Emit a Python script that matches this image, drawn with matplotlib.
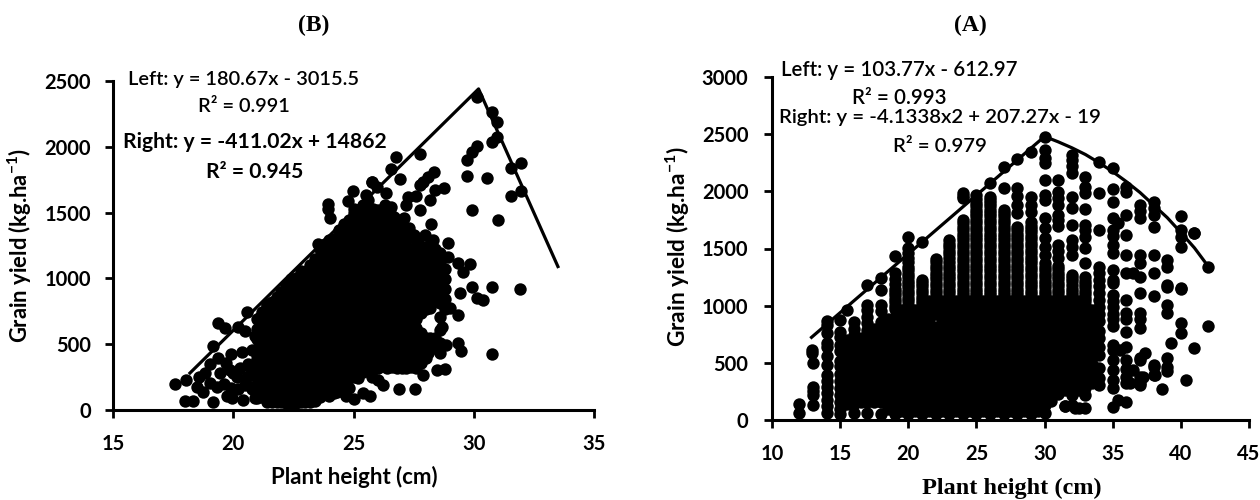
# -*- coding: utf-8 -*-
"""Grain yield against plant height, panels (B) and (A), with boundary lines."""

from matplotlib import pyplot as plt

plt.rcParams['font.family'] = ['Lato', 'DejaVu Sans']
plt.rcParams['mathtext.fontset'] = 'custom'
plt.rcParams['mathtext.rm'] = 'Lato:bold'
plt.rcParams['mathtext.default'] = 'rm'

W, H = 1260.0, 500.0
DOT = 80  # marker area, about 12 px across

# ---- panel B: points that can be told apart
b_x = [30.12, 30.77, 30.95, 30.95, 30.76, 30.12, 29.93, 29.73, 29.73, 30.56, 31.95, 31.55, 31.95, 31.55, 29.94, 31.02,
       27.76, 26.75, 26.54, 26.94, 25.76, 25.96, 26.35, 28.35, 28.11, 27.9, 27.76, 28.76, 28.39, 28.17, 27.6, 27.28,
       27.2, 27.76, 26.54, 28.24, 27.97, 28.32, 28.94, 28.6, 28.94, 29.85, 29.36, 29.55, 30.76, 31.94, 29.93, 29.43,
       30.12, 30.37, 30.76, 29.35, 29.0, 28.6, 28.7, 28.6, 29.35, 29.46, 28.85, 28.6, 28.1, 28.8, 28.47, 27.9,
       27.56, 26.9, 26.24, 26.0, 25.76, 25.7, 25.4, 17.56, 18.03, 18.59, 18.0, 18.34, 19.17, 19.73, 19.93, 20.4,
       20.9, 19.35, 19.66, 20.21, 20.56, 21.39, 21.11, 19.17, 19.38, 19.89, 20.35, 20.77, 19.03, 18.82, 19.87, 18.48,
       18.75, 19.03, 19.31, 19.45, 20.14, 20.56, 20.83, 20.7, 22.29, 22.63, 23.93, 23.93, 24.02, 23.53, 23.88, 23.57,
       23.74, 23.15, 23.19, 24.78, 24.96, 25.54, 25.78, 25.0, 24.44, 24.44, 25.0, 24.7, 24.3, 20.5, 20.9, 21.0,
       26.9, 27.1, 27.3, 27.5, 26.3, 26.5, 26.7, 27.7, 27.9, 28.1, 28.3, 19.6, 19.9, 20.2, 20.5, 20.8, 20.3, 20.6,
       20.9, 19.7, 20.0]
b_y = [2376, 2262, 2191, 2077, 2034, 2009, 1963, 1900, 1778, 1763, 1879, 1841, 1664, 1623, 1517, 1446,
       1943, 1919, 1831, 1753, 1735, 1694, 1649, 1806, 1773, 1735, 1710, 1684, 1672, 1596, 1626, 1616,
       1558, 1520, 1545, 1411, 1330, 1292, 1267, 1193, 1165, 1109, 1117, 1051, 935, 919, 932, 891,
       850, 836, 423, 722, 775, 709, 631, 608, 509, 448, 494, 478, 433, 314, 304, 266,
       160, 160, 190, 230, 253, 106, 129, 195, 228, 248, 71, 71, 63, 106, 91, 76,
       91, 659, 623, 633, 747, 803, 709, 486, 393, 423, 443, 456, 350, 281, 304, 177,
       139, 203, 177, 279, 253, 253, 177, 329, 886, 950, 1565, 1530, 1457, 1261, 1269, 1153,
       1117, 1069, 1013, 1590, 1664, 1634, 1735, 1497, 1355, 1250, 80, 110, 140, 600, 560, 420,
       1400, 1460, 1380, 1330, 1560, 1500, 1470, 1280, 1230, 1250, 1200, 200, 170, 160, 190, 160, 320, 350,
       300, 360, 280]

# ---- panel B: the solid mass, read column by column
b_mass_x = [21.0, 21.4, 21.8, 22.2, 22.6, 23.0, 23.4, 23.8, 24.2, 24.6,
            25.0, 25.4, 25.8, 26.2, 26.6, 27.0, 27.4, 27.8, 28.2, 28.6,
            21.2, 21.6, 22.0, 22.4, 22.8, 23.2, 23.6, 24.0, 24.4, 24.8,
            25.2, 25.6, 26.0, 26.4, 26.8, 27.2, 27.6, 28.0, 28.4, 28.8]
b_mass_y = [
    [90, 165, 240, 315, 390, 465, 540, 615, 690],
    [60, 130, 205, 280, 355, 430, 505, 580, 655, 730, 790],
    [60, 135, 210, 285, 360, 435, 510, 585, 660, 735, 810, 860],
    [50, 120, 195, 270, 345, 420, 495, 570, 645, 720, 795, 870, 945],
    [50, 130, 205, 280, 355, 430, 505, 580, 655, 730, 805, 880, 955, 1005],
    [60, 135, 210, 285, 360, 435, 510, 585, 660, 735, 810, 885, 960, 1035],
    [70, 100, 175, 250, 325, 400, 475, 550, 625, 700, 775, 850, 925, 1000, 1075, 1150],
    [135, 210, 285, 360, 435, 510, 585, 660, 735, 810, 885, 960, 1035, 1110, 1185, 1260],
    [130, 175, 250, 325, 400, 475, 550, 625, 700, 775, 850, 925, 1000, 1075, 1150, 1225, 1300],
    [135, 210, 285, 360, 435, 510, 585, 660, 735, 810, 885, 960, 1035, 1110, 1185, 1260, 1335, 1410],
    [250, 325, 400, 475, 550, 625, 700, 775, 850, 925, 1000, 1075, 1150, 1225, 1300, 1375, 1450, 1525],
    [285, 360, 435, 510, 585, 660, 735, 810, 885, 960, 1035, 1110, 1185, 1260, 1335, 1410, 1485, 1560],
    [325, 400, 475, 550, 625, 700, 775, 850, 925, 1000, 1075, 1150, 1225, 1300, 1375, 1450, 1525],
    [360, 435, 510, 585, 660, 735, 810, 885, 960, 1035, 1110, 1185, 1260, 1335, 1410, 1485],
    [325, 400, 475, 550, 625, 700, 775, 850, 925, 1000, 1075, 1150, 1225, 1300, 1375, 1450],
    [320, 360, 435, 510, 585, 660, 735, 810, 885, 960, 1035, 1110, 1185, 1260, 1335],
    [325, 400, 475, 550, 625, 700, 775, 850, 925, 1000, 1075, 1150, 1225],
    [360, 435, 510, 585, 735, 810, 885, 960, 1035, 1110, 1185],
    [475, 550, 775, 850, 925, 1000, 1075, 1150],
    [435, 510, 810, 885, 960, 1035, 1110],
    [95, 170, 245, 320, 395, 470, 545, 620, 695, 745],
    [60, 95, 170, 245, 320, 395, 470, 545, 620, 695, 770, 820],
    [60, 95, 170, 245, 320, 395, 470, 545, 620, 695, 770, 845, 900],
    [50, 95, 170, 245, 320, 395, 470, 545, 620, 695, 770, 845, 920, 995],
    [60, 95, 170, 245, 320, 395, 470, 545, 620, 695, 770, 845, 920, 995, 1060],
    [60, 95, 170, 245, 320, 395, 470, 545, 620, 695, 770, 845, 920, 995, 1070, 1100],
    [95, 170, 245, 320, 395, 470, 545, 620, 695, 770, 845, 920, 995, 1070, 1145, 1220],
    [110, 170, 245, 320, 395, 470, 545, 620, 695, 770, 845, 920, 995, 1070, 1145, 1220, 1295],
    [170, 245, 320, 395, 470, 545, 620, 695, 770, 845, 920, 995, 1070, 1145, 1220, 1295, 1370],
    [170, 245, 320, 395, 470, 545, 620, 695, 770, 845, 920, 995, 1070, 1145, 1220, 1295, 1370, 1445],
    [245, 320, 395, 470, 545, 620, 695, 770, 845, 920, 995, 1070, 1145, 1220, 1295, 1370, 1445, 1520],
    [320, 395, 470, 545, 620, 695, 770, 845, 920, 995, 1070, 1145, 1220, 1295, 1370, 1445, 1520, 1595],
    [320, 395, 470, 545, 620, 695, 770, 845, 920, 995, 1070, 1145, 1220, 1295, 1370, 1445, 1520],
    [320, 395, 470, 545, 620, 695, 770, 845, 920, 995, 1070, 1145, 1220, 1295, 1370, 1445],
    [320, 395, 470, 545, 620, 695, 770, 845, 920, 995, 1070, 1145, 1220, 1295, 1370, 1445],
    [320, 395, 470, 545, 620, 695, 770, 845, 920, 995, 1070, 1145, 1220, 1295, 1370],
    [320, 395, 470, 545, 620, 695, 770, 845, 920, 995, 1070, 1145, 1220, 1295],
    [395, 470, 545, 770, 845, 920, 995, 1070, 1145, 1220],
    [470, 545, 845, 920, 995, 1070, 1145, 1220],
    [770, 845, 920, 995, 1070],
]

# boundary lines
b_line_x = [18.2, 30.2, 33.5]
b_line_y = [281, 2440, 1090]
a_line_x = [12.9, 30, 31, 32, 33, 34, 35, 36, 37, 38, 39, 40, 41, 42]
a_line_y = [723, 2480, 2433, 2381, 2322, 2250, 2172, 2085, 1990, 1880, 1770, 1640, 1505, 1345]

# ---- panel A: points lie on whole or half centimetres
a_col_x = [12, 12.9, 13, 14, 15, 15.5, 16, 16.5, 17, 17.5, 18, 18.5, 19, 19.5, 20, 20.5, 21, 21.5, 22, 22.5,
           23, 23.5, 24, 24.5, 25, 25.5, 26, 26.5, 27, 27.5, 28, 28.5, 29, 29.5, 30, 30.5, 31, 31.5, 32, 32.5,
           33, 33.5, 34, 35, 36, 37, 38, 39, 40, 41, 42]
a_col_y = [
    [140, 61],
    [612, 590],
    [499, 289, 250, 219, 131],
    [869, 830, 761, 674, 640, 560, 480, 394, 340, 289, 240, 175, 120, 60],
    [875, 770, 730, 660, 600, 520, 470, 400, 340, 280, 220, 160, 100, 50],
    [962, 700, 620, 540, 460, 380, 300, 220, 140],
    [860, 800, 740, 680, 620, 560, 500, 440, 380, 320, 260, 200, 140, 60],
    [720, 640, 560, 480, 400, 320, 240, 160],
    [1181, 1006, 960, 900, 850, 790, 720, 650, 580, 510, 440, 370, 300, 230, 160, 60],
    [800, 720, 640, 560, 480, 400, 320, 240, 160],
    [1242, 1137, 1006, 950, 860, 790, 720, 650, 580, 510, 440, 370, 300, 230, 160, 50],
    [880, 800, 710, 620, 530, 440, 350, 260, 170, 100],
    [1435, 1286, 1230, 1150, 1090, 1030, 970, 900, 815, 730, 645, 560, 475, 390, 305, 220, 135, 50],
    [960, 880, 800, 710, 620, 530, 440, 350, 260, 170, 80],
    [1601, 1505, 1417, 1340, 1280, 1220, 1160, 1100, 1040, 980, 900, 815, 730, 645, 560, 475, 390, 305, 220, 135, 50],
    [960, 880, 800, 710, 620, 530, 440, 350, 260, 170, 80],
    [1560, 1225, 1170, 1110, 1050, 990, 900, 815, 730, 645, 560, 475, 390, 305, 220, 135, 50],
    [1040, 960, 880, 800, 710, 620, 530, 440, 350, 260, 170, 80],
    [1408, 1350, 1290, 1230, 1170, 1110, 1050, 990, 930, 815, 730, 645, 560, 475, 390, 305, 220, 135, 50],
    [1040, 960, 880, 800, 710, 620, 530, 440, 350, 260, 170, 80],
    [1575, 1510, 1450, 1380, 1320, 1260, 1200, 1140, 1080, 1020, 960, 900, 815, 730, 645, 560, 475, 390, 305, 220, 135, 50],
    [1040, 960, 880, 800, 710, 620, 530, 440, 350, 260, 170, 80],
    [1986, 1940, 1750, 1690, 1630, 1570, 1510, 1450, 1390, 1330, 1270, 1210, 1150, 1090, 1030, 970, 900, 815, 730, 645,
     560, 475, 390, 305, 220, 135, 50],
    [1040, 960, 880, 800, 710, 620, 530, 440, 350, 260, 170, 80],
    [1969, 1900, 1840, 1780, 1720, 1660, 1600, 1540, 1480, 1420, 1360, 1300, 1240, 1180, 1120, 1060, 1000, 940, 880, 815,
     730, 645, 560, 475, 390, 305, 220, 135, 50],
    [1040, 960, 880, 800, 710, 620, 530, 440, 350, 260, 170, 80],
    [2074, 1954, 1900, 1840, 1780, 1720, 1660, 1600, 1540, 1480, 1420, 1360, 1300, 1240, 1180, 1120, 1060, 1000, 940, 880,
     815, 730, 645, 560, 475, 390, 305, 220, 135, 50],
    [1040, 960, 880, 800, 710, 620, 530, 440, 350, 260, 170, 80],
    [2216, 2027, 1837, 1780, 1720, 1660, 1600, 1540, 1480, 1420, 1360, 1300, 1240, 1180, 1120, 1060, 1000, 940, 880, 815,
     730, 645, 560, 475, 390, 305, 220, 135, 50],
    [1040, 960, 880, 800, 710, 620, 530, 440, 350, 260, 170, 80],
    [2283, 2030, 1957, 1881, 1811, 1689, 1630, 1570, 1510, 1450, 1390, 1330, 1270, 1210, 1150, 1090, 1030, 970, 900, 815,
     730, 645, 560, 475, 390, 305, 220, 135, 50],
    [1040, 960, 880, 800, 710, 620, 530, 440, 350, 260, 170, 80],
    [2348, 1954, 1881, 1820, 1732, 1670, 1610, 1550, 1490, 1430, 1370, 1310, 1250, 1190, 1130, 1070, 1010, 950, 880, 815,
     730, 645, 560, 475, 390, 305, 220, 135, 50],
    [1040, 960, 880, 800, 710, 620, 530, 440, 350, 260, 170, 80],
    [2479, 2362, 2289, 2248, 2100, 1969, 1925, 1767, 1680, 1592, 1514, 1444, 1374, 1310, 1250, 1190, 1130, 1070, 1010, 950,
     880, 815, 730, 645, 560, 475, 390, 305, 220, 135, 60],
    [1040, 960, 880, 800, 710, 620, 530, 440, 350, 260, 170],
    [2100, 1998, 1942, 1881, 1794, 1750, 1700, 1531, 1475, 1417, 1350, 1290, 1230, 1170, 1110, 1050, 990, 930, 870, 815,
     730, 645, 560, 475, 390, 320, 230],
    [1040, 960, 880, 800, 710, 620, 530, 440, 350, 260, 122],
    [2318, 2270, 2220, 2161, 1954, 1855, 1706, 1575, 1510, 1444, 1269, 1215, 1150, 1090, 1030, 970, 900, 815,
     730, 645, 560, 475, 390, 305, 220, 130],
    [1040, 960, 880, 800, 710, 620, 530, 440, 350, 260, 105],
    [2129, 2041, 1985, 1846, 1706, 1660, 1600, 1505, 1374, 1254, 1190, 1130, 1070, 1010, 950, 890, 815, 730, 645,
     560, 475, 390, 300, 280, 219, 105],
    [960, 900, 820, 740, 650, 570, 490, 400, 320],
    [2260, 1986, 1662, 1341, 1290, 1225, 1170, 1110, 1050, 990, 930, 870, 780, 720, 640, 569, 455, 370, 306],
    [2205, 2021, 1907, 1767, 1662, 1610, 1531, 1461, 1312, 1225, 1196, 1094, 1040, 985, 930, 880, 820, 656, 612, 525,
     440, 350, 280, 114],
    [2041, 1990, 1794, 1619, 1444, 1286, 1050, 936, 880, 773, 640, 525, 450, 380, 320, 160],
    [1881, 1825, 1767, 1444, 1374, 1254, 1108, 933, 880, 802, 542, 525, 380, 324, 306],
    [1910, 1850, 1790, 1691, 1444, 1286, 1085, 481, 467, 394],
    [1400, 1340, 1181, 1166, 1006, 933, 542, 467, 430],
    [1785, 1662, 1600, 1514, 1155, 1143, 846, 758],
    [1639, 627],
    [1341, 825],
]
# repeat readings that close the tall columns into bars
a_bar_x = [19, 20, 21, 22, 23, 24, 25, 26, 27, 28, 29, 30, 31, 32, 33]
a_bar_y = [
    [1000, 1060, 1120, 1190],
    [1010, 1070, 1130, 1190, 1250, 1310, 1380, 1460],
    [960, 1020, 1080, 1140, 1200],
    [960, 1020, 1080, 1140, 1200, 1260, 1320, 1380],
    [990, 1050, 1110, 1170, 1230, 1290, 1350, 1415, 1480, 1540],
    [1000, 1060, 1120, 1180, 1240, 1300, 1360, 1420, 1480, 1540, 1600, 1660, 1720, 1963],
    [970, 1030, 1090, 1150, 1210, 1270, 1330, 1390, 1450, 1510, 1570, 1630, 1690, 1750, 1810, 1870, 1935],
    [970, 1030, 1090, 1150, 1210, 1270, 1330, 1390, 1450, 1510, 1570, 1630, 1690, 1750, 1810, 1870, 1927],
    [970, 1030, 1090, 1150, 1210, 1270, 1330, 1390, 1450, 1510, 1570, 1630, 1690, 1750, 1810],
    [1000, 1060, 1120, 1180, 1240, 1300, 1360, 1420, 1480, 1540, 1600, 1660],
    [980, 1040, 1100, 1160, 1220, 1280, 1340, 1400, 1460, 1520, 1580, 1640, 1700],
    [980, 1040, 1100, 1160, 1220, 1280, 1340],
    [1020, 1080, 1140, 1200, 1260, 1320],
    [1000, 1060, 1120, 1180, 1240],
    [980, 1040, 1100, 1160, 1220],
]
# points that sit between the columns
a_off_x = [35.4, 36.5, 39.3, 38.6, 40.4, 35.4, 32.2, 31.5, 37.4, 36.5, 37.2, 36.3, 35.5, 38.1, 41.0]
a_off_y = [1726, 1286, 674, 271, 350, 175, 105, 122, 586, 440, 380, 320, 612, 394, 1639]

x_ticks_b = [15, 20, 25, 30, 35]
y_ticks_b = [0, 500, 1000, 1500, 2000, 2500]
x_ticks_a = [10, 15, 20, 25, 30, 35, 40, 45]
y_ticks_a = [0, 500, 1000, 1500, 2000, 2500, 3000]


def make_axes(fig, left, right, top, bottom, xlim, ylim, xticks, yticks, ypad):
    ax = fig.add_axes([left/W, 1 - bottom/H, (right - left)/W, (bottom - top)/H])
    ax.set_xlim(xlim)
    ax.set_ylim(ylim)
    ax.set_xticks(xticks)
    ax.set_yticks(yticks)
    ax.patch.set_alpha(0)
    for side in ['top', 'right']:
        ax.spines[side].set_visible(False)
    for side in ['left', 'bottom']:
        ax.spines[side].set_linewidth(2.2)
    ax.tick_params(axis='x', length=5.5, width=2.0, pad=12, labelsize=14.5)
    ax.tick_params(axis='y', length=6, width=2.0, pad=ypad, labelsize=14.5)
    for lab in ax.get_xticklabels() + ax.get_yticklabels():
        lab.set_fontweight('bold')
    return ax


def put(fig, x, y, s, **kw):
    kw.setdefault('ha', 'center')
    kw.setdefault('va', 'center')
    fig.text(x/W, 1 - y/H, s, color='black', **kw)


fig = plt.figure(figsize=(12.6, 5), dpi=100)

# panel B
ax = make_axes(fig, 113, 594, 81, 410, (15, 35), (0, 2500), x_ticks_b, y_ticks_b, 10)
ax.scatter(b_x, b_y, s=DOT, color='black', linewidths=0, clip_on=False)
for x, ys in zip(b_mass_x, b_mass_y):
    ax.scatter([x]*len(ys), ys, s=DOT, color='black', linewidths=0, clip_on=False)
ax.plot(b_line_x, b_line_y, color='black', lw=2.3, clip_on=False)

# panel A
ax = make_axes(fig, 772, 1249, 77, 420, (10, 45), (0, 3000), x_ticks_a, y_ticks_a, 11)
for x, ys in zip(a_col_x + a_bar_x, a_col_y + a_bar_y):
    ax.scatter([x]*len(ys), ys, s=DOT, color='black', linewidths=0, clip_on=False)
ax.scatter(a_off_x, a_off_y, s=DOT, color='black', linewidths=0, clip_on=False)
ax.plot(a_line_x, a_line_y, color='black', lw=2.3, clip_on=False)

# titles and axis labels
serif = ['Liberation Serif', 'DejaVu Serif']
put(fig, 314, 25, '(B)', family=serif, fontsize=17, fontweight='bold')
put(fig, 970, 25, '(A)', family=serif, fontsize=17, fontweight='bold')
put(fig, 354, 477, 'Plant height (cm)', fontsize=16, fontweight='bold')
put(fig, 1012, 488, 'Plant height (cm)', family=serif, fontsize=17.5, fontweight='bold')
put(fig, 20, 245, 'Grain yield (kg.ha$^{-1}$)', fontsize=15.8, fontweight='bold', rotation=90)
put(fig, 678, 247, 'Grain yield (kg.ha$^{-1}$)', fontsize=16.3, fontweight='bold', rotation=90)

# equations
put(fig, 244, 80, 'Left: y = 180.67x - 3015.5', fontsize=14.4, fontweight='semibold')
put(fig, 244, 107, 'R² = 0.991', fontsize=14.4, fontweight='semibold')
put(fig, 255, 142, 'Right: y = -411.02x + 14862', fontsize=15.2, fontweight='bold')
put(fig, 255, 172, 'R² = 0.945', fontsize=15.2, fontweight='bold')
put(fig, 899, 70, 'Left: y = 103.77x - 612.97', fontsize=14.8, fontweight='semibold')
put(fig, 899, 98, 'R² = 0.993', fontsize=14.8, fontweight='semibold')
put(fig, 940, 117, 'Right: y = -4.1338x2 + 207.27x - 19', fontsize=14.7, fontweight='semibold')
put(fig, 940, 146, 'R² = 0.979', fontsize=14.7, fontweight='semibold')

plt.savefig('out.png', dpi=100)
